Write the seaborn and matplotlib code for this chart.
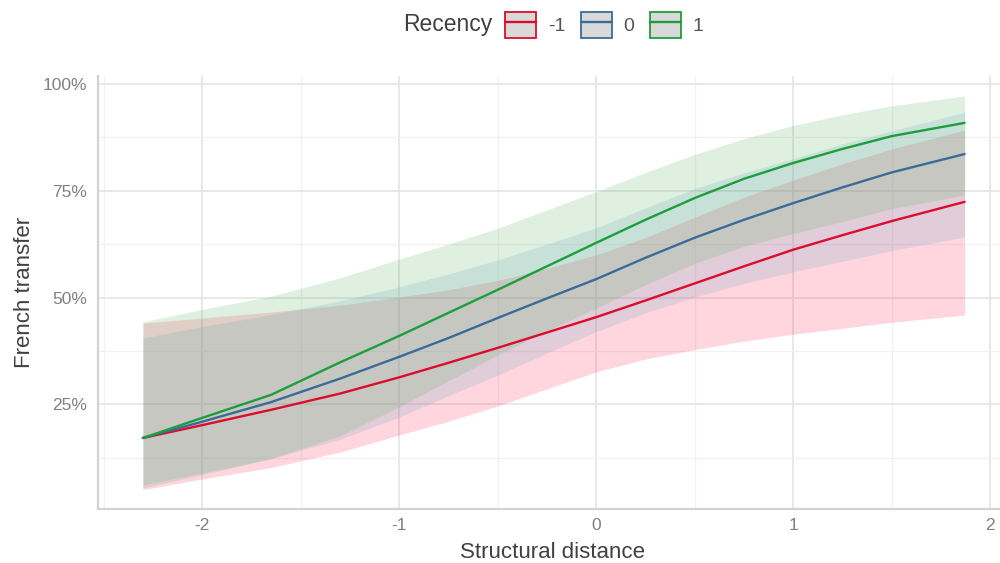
import numpy as np
import pandas as pd
import matplotlib
matplotlib.use("Agg")
import matplotlib.pyplot as plt
import seaborn as sns
from matplotlib.patches import Patch
from matplotlib.lines import Line2D
from matplotlib.ticker import PercentFormatter, MultipleLocator

# valores (em %)
distance = [-2.3, -2.0, -1.65, -1.3, -1.0, -0.75, -0.5, -0.25,
            0.0, 0.25, 0.5, 0.75, 1.0, 1.25, 1.5, 1.87]
recency_levels = ["-1", "0", "1"]

fit_m1 = [17.1, 20.1, 23.7, 27.5, 31.3, 34.7, 38.2, 41.8,
          45.4, 49.3, 53.3, 57.3, 61.2, 64.6, 67.9, 72.4]
low_m1 = [5.0, 7.5, 10.2, 13.8, 17.8, 21.0, 24.6, 28.6,
          32.6, 35.6, 37.8, 39.8, 41.4, 42.8, 44.2, 45.9]
high_m1 = [44.0, 45.2, 46.6, 48.2, 50.1, 51.8, 54.0, 56.8,
           60.0, 64.0, 68.8, 73.5, 77.5, 81.3, 84.8, 89.2]

fit_0 = [17.1, 20.9, 25.5, 31.0, 36.1, 40.5, 45.2, 49.8,
         54.3, 59.3, 64.0, 68.2, 72.1, 75.8, 79.3, 83.6]
low_0 = [6.1, 8.9, 12.2, 16.8, 22.0, 27.0, 31.8, 37.0,
         42.0, 46.4, 50.1, 53.3, 56.0, 58.5, 61.0, 64.2]
high_0 = [40.5, 43.2, 46.0, 49.2, 52.5, 55.5, 58.8, 62.5,
          66.3, 71.0, 75.5, 79.2, 82.5, 86.0, 89.0, 93.4]

fit_p1 = [17.1, 21.8, 27.2, 34.8, 41.0, 46.4, 51.8, 57.3,
          62.8, 68.2, 73.3, 77.8, 81.5, 84.8, 87.8, 90.9]
low_p1 = [5.4, 8.5, 12.3, 17.6, 24.4, 30.5, 36.5, 42.2,
          47.5, 53.0, 58.0, 62.0, 65.0, 67.8, 70.8, 74.0]
high_p1 = [44.3, 47.2, 50.3, 54.6, 59.0, 62.5, 66.2, 70.5,
           74.8, 79.3, 83.5, 87.2, 90.3, 92.8, 94.9, 97.2]

line_colors = ["#DC0D2C", "#3A6B98", "#1C9E3C"]
fill_colors = ["#FF325A", "#6CA5C8", "#5FB469"]

# tabela longa para o seaborn
rows = []
for lev, f, lo, hi in zip(recency_levels,
                          [fit_m1, fit_0, fit_p1],
                          [low_m1, low_0, low_p1],
                          [high_m1, high_0, high_p1]):
    for x, a, b, c in zip(distance, f, lo, hi):
        rows.append({"distance": x, "recency": lev,
                     "fit": a / 100, "low": b / 100, "high": c / 100})
df = pd.DataFrame(rows)

sns.set_style("white")
plt.rcParams["font.family"] = ["Liberation Sans", "DejaVu Sans"]

fig = plt.figure(figsize=(10, 5.63), dpi=100)
ax = fig.add_axes([0.098, 0.0954, 0.908, 0.769])

# faixas de confiança
for lev, fc in zip(recency_levels, fill_colors):
    sub = df[df["recency"] == lev]
    ax.fill_between(sub["distance"], sub["low"], sub["high"],
                    color=fc, alpha=0.2, linewidth=0, zorder=2)

sns.lineplot(data=df, x="distance", y="fit", hue="recency",
             hue_order=recency_levels, palette=line_colors,
             linewidth=1.7, legend=False, ax=ax, zorder=3)

ax.set_xlim(-2.528, 2.08)
ax.set_ylim(0.004, 1.018)
ax.xaxis.set_minor_locator(MultipleLocator(0.5))
ax.yaxis.set_minor_locator(MultipleLocator(0.125))
ax.yaxis.set_major_formatter(PercentFormatter(1.0, decimals=0))
ax.set_xticks([-2, -1, 0, 1, 2])
ax.set_xticklabels(["-2", "-1", "0", "1", "2"])
ax.set_yticks([0.25, 0.5, 0.75, 1.0])

ax.grid(which="major", color="#E6E6E6", linewidth=1.3, zorder=0)
ax.grid(which="minor", color="#F1F1F1", linewidth=0.9, zorder=0)
ax.set_axisbelow(True)

for s in ["top", "right"]:
    ax.spines[s].set_visible(False)
for s in ["left", "bottom"]:
    ax.spines[s].set_color("#D2D2D2")
    ax.spines[s].set_linewidth(1.6)

ax.tick_params(axis="both", which="both", length=0, labelsize=12.5,
               labelcolor="#808080")
ax.tick_params(axis="y", pad=8)
ax.tick_params(axis="x", pad=6)

ax.set_xlabel("Structural distance", fontsize=16, color="#404040", labelpad=7)
ax.set_ylabel("French transfer", fontsize=16, color="#404040", labelpad=5)

# legenda no topo
handles = [(Patch(facecolor="#D9D9D9", edgecolor=c, linewidth=1.3),
            Line2D([], [], color=c, linewidth=1.7)) for c in line_colors]
fig.text(0.403, 1 - 25 / 563, "Recency", fontsize=16.5, color="#404040",
         va="center", ha="left")
fig.legend(handles, recency_levels, loc="center left",
           bbox_to_anchor=(0.505, 1 - 25 / 563), ncol=3, frameon=False,
           fontsize=14, labelcolor="#555555", handlelength=1.6,
           handleheight=1.7, handletextpad=0.6, columnspacing=0.8,
           borderpad=0, borderaxespad=0)

fig.savefig("out.png", dpi=100)
